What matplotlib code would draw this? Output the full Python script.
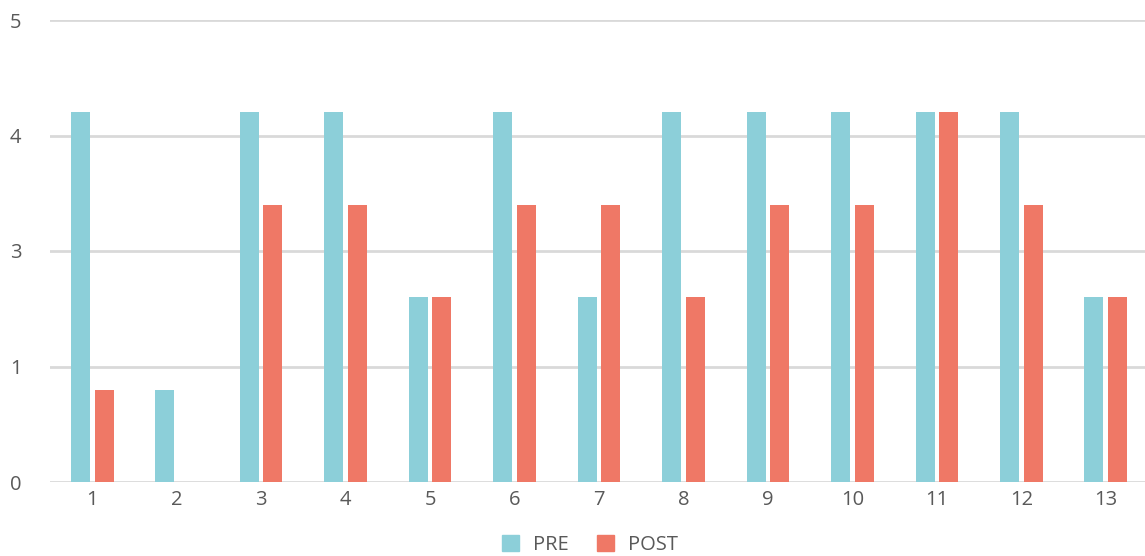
import matplotlib
matplotlib.use("Agg")
import matplotlib.pyplot as plt
import numpy as np
from matplotlib.patches import Patch

categories = ["1", "2", "3", "4", "5", "6", "7", "8", "9", "10", "11", "12", "13"]
# values in axis-position units (axis runs 0..4 with labels 0,1,3,4,5)
pre = [3.2, 0.8, 3.2, 3.2, 1.6, 3.2, 1.6, 3.2, 3.2, 3.2, 3.2, 3.2, 1.6]
post = [0.8, 0.0, 2.4, 2.4, 1.6, 2.4, 2.4, 1.6, 2.4, 2.4, 3.2, 2.4, 1.6]
ytick_pos = [0, 1, 2, 3, 4]
ytick_labels = ["0", "1", "3", "4", "5"]

PRE_C = "#8ccfd9"
POST_C = "#ef7866"
TXT = "#595959"

plt.rcParams['font.family'] = ['Open Sans', 'DejaVu Sans']

fig = plt.figure(figsize=(11.45, 5.56), dpi=100)
ax = fig.add_axes([50/1145, 74/556, 1098/1145, 462/556])

x = np.arange(len(categories))
w = 0.225
off = 0.14
ax.bar(x - off, pre, w, color=PRE_C, zorder=3)
ax.bar(x + off, post, w, color=POST_C, zorder=3)

ax.set_xlim(-0.5, len(categories) - 0.5)
ax.set_ylim(0, 4)
ax.set_yticks(ytick_pos)
ax.set_yticklabels(ytick_labels)
ax.set_xticks(x)
ax.set_xticklabels(categories)
ax.yaxis.grid(True, color="#d9d9d9", linewidth=2.0, zorder=0)
ax.set_axisbelow(True)
for s in ax.spines.values():
    s.set_visible(False)
ax.tick_params(axis='both', length=0, labelsize=14.5, colors=TXT)
ax.tick_params(axis='x', pad=6)
for lbl in ax.get_yticklabels():
    lbl.set_horizontalalignment('left')
ax.yaxis.set_tick_params(pad=29)

handles = [Patch(color=PRE_C, label="PRE"), Patch(color=POST_C, label="POST")]
fig.legend(handles=handles, loc='center', bbox_to_anchor=(590/1145, 1 - 545/556),
           ncol=2, frameon=False, fontsize=14.5, labelcolor=TXT,
           handlelength=0.85, handleheight=0.85, columnspacing=1.4, handletextpad=0.7)

fig.savefig("out.png", dpi=100)
